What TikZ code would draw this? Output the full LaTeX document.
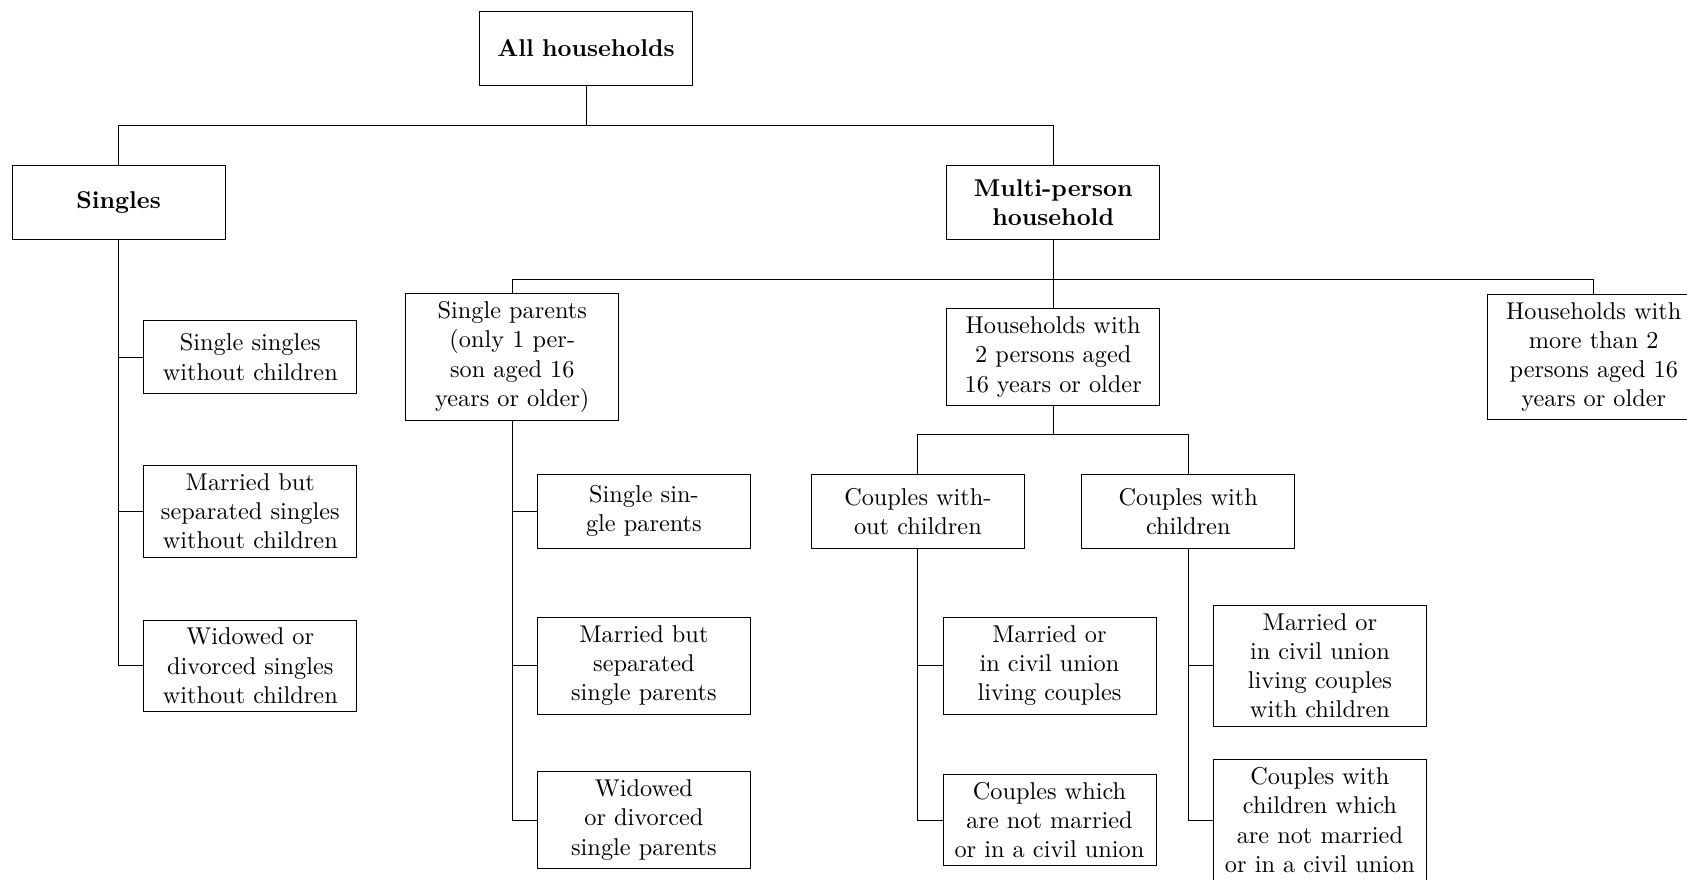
\documentclass[tikz,border=0pt]{standalone}
\usepackage{tikz}
\tikzset{box/.style = {draw, rectangle, align=center, text width=81pt,
                       minimum height=30.4pt, inner sep=3.33pt}}
\tikzset{head/.style = {box, font=\bfseries}}

\begin{document}
\begin{tikzpicture}[x=0.4115pt, y=-0.4115pt]
    \useasboundingbox (0, 0) rectangle (1687, 879);

    % top levels
    \node [head] (all) at (586, 48.5) {All households};
    \node [head] (singles) at (118.6, 202.7) {Singles};
    \node [head] (multi) at (1053.2, 202.7) {Multi-person\\household};

    \node [box] (sp) at (512.3, 357) {Single parents\\(only 1 per-\\son aged 16\\years or older)};
    \node [box] (hhtwo) at (1053.2, 357) {Households with\\2 persons aged\\16 years or older};
    \node [box] (hhmore) at (1593.8, 357) {Households with\\more than 2\\persons aged 16\\years or older};

    \node [box] (cwo) at (917.9, 511.3) {Couples with-\\out children};
    \node [box] (cw) at (1188.3, 511.3) {Couples with\\children};

    % leaves
    \node [box] (ss) at (250.3, 357) {Single singles\\without children};
    \node [box] (ms) at (250.3, 511.3) {Married but\\separated singles\\without children};
    \node [box] (ws) at (250.3, 665.8) {Widowed or\\divorced singles\\without children};

    \node [box] (ssp) at (643.9, 511.3) {Single sin-\\gle parents};
    \node [box] (msp) at (643.9, 665.8) {Married but\\separated\\single parents};
    \node [box] (wsp) at (643.9, 820) {Widowed\\or divorced\\single parents};

    \node [box] (mc) at (1049.5, 665.8) {Married or\\in civil union\\living couples};
    \node [box] (nc) at (1049.5, 820) {Couples which\\are not married\\or in a civil union};

    \node [box] (mcc) at (1319.9, 665.8) {Married or\\in civil union\\living couples\\with children};
    \node [box] (ncc) at (1319.9, 820) {Couples with\\children which\\are not married\\or in a civil union};

    % forks
    \coordinate (fork1) at (0, 125.6);
    \coordinate (fork2) at (0, 279.8);
    \coordinate (fork3) at (0, 434.1);

    \draw (all) -- (all |- fork1);
    \foreach \c in {singles, multi}
      \draw (all |- fork1) -| (\c);

    \draw (multi) -- (multi |- fork2);
    \foreach \c in {sp, hhtwo, hhmore}
      \draw (multi |- fork2) -| (\c);

    \draw (hhtwo) -- (hhtwo |- fork3);
    \foreach \c in {cwo, cw}
      \draw (hhtwo |- fork3) -| (\c);

    \foreach \c in {ss, ms, ws}
      \draw (singles) |- (\c);
    \foreach \c in {ssp, msp, wsp}
      \draw (sp) |- (\c);
    \foreach \c in {mc, nc}
      \draw (cwo) |- (\c);
    \foreach \c in {mcc, ncc}
      \draw (cw) |- (\c);
\end{tikzpicture}
\end{document}
